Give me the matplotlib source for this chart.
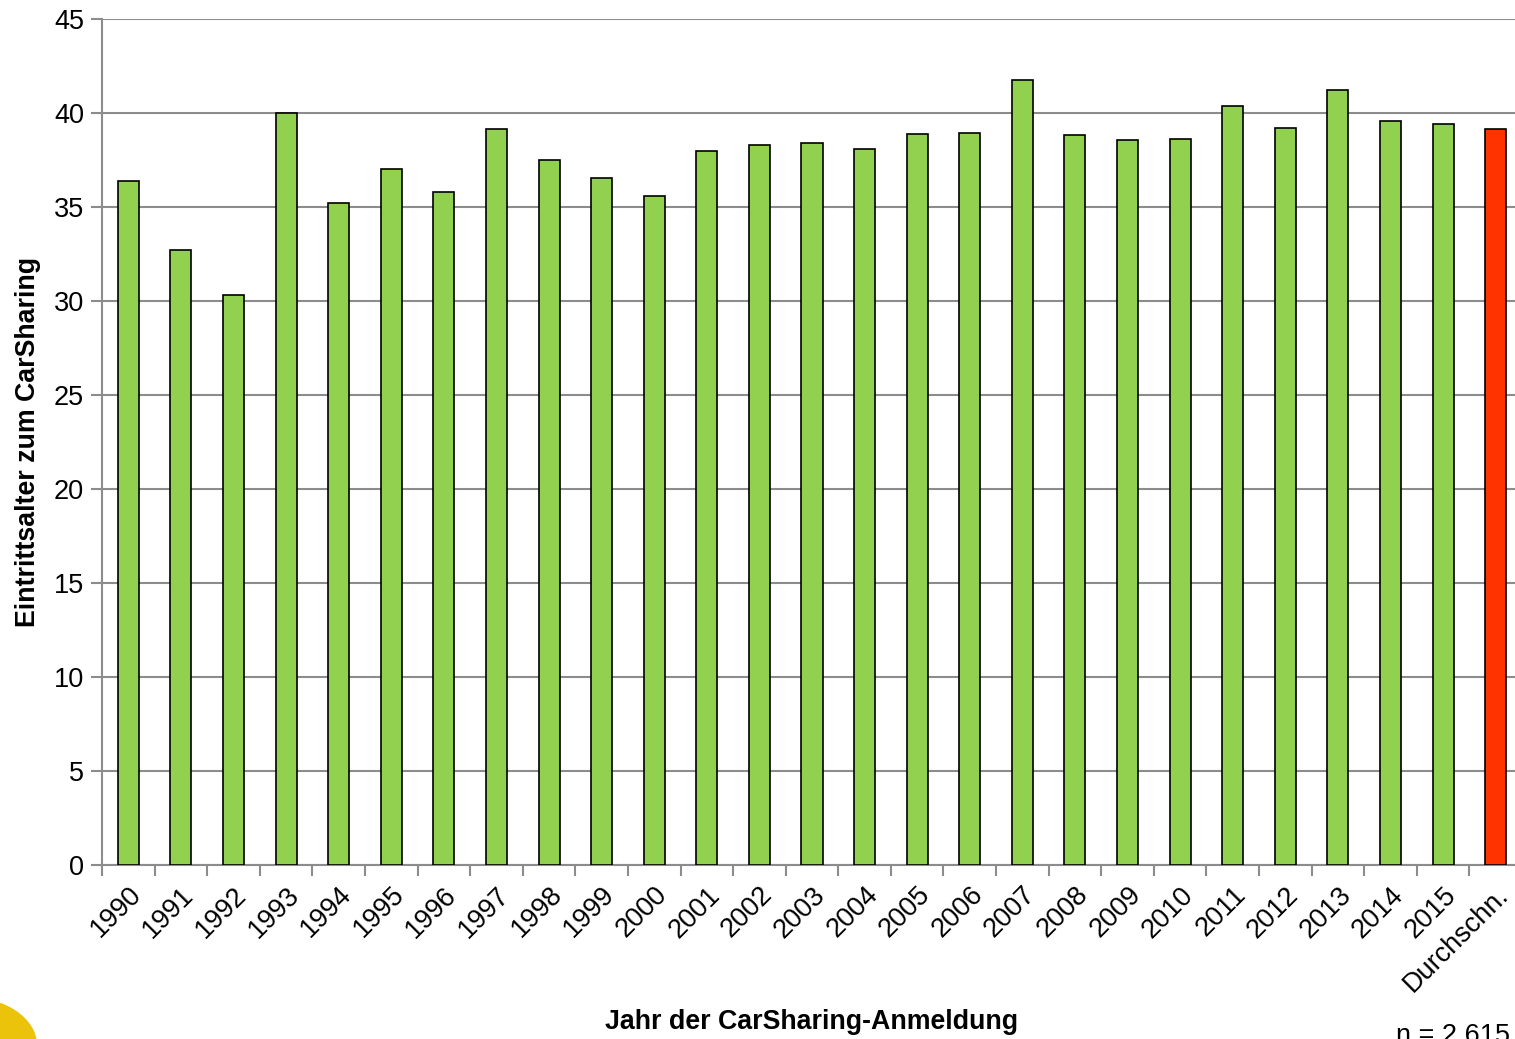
import numpy as np
import matplotlib
matplotlib.use('Agg')
import matplotlib.pyplot as plt
from matplotlib.patches import Circle

plt.rcParams['font.family'] = ['Liberation Sans', 'DejaVu Sans']

categories = ['1990', '1991', '1992', '1993', '1994', '1995', '1996', '1997',
              '1998', '1999', '2000', '2001', '2002', '2003', '2004', '2005',
              '2006', '2007', '2008', '2009', '2010', '2011', '2012', '2013',
              '2014', '2015', 'Durchschn.']
values = [36.4, 32.7, 30.3, 40.0, 35.2, 37.0, 35.8, 39.15,
          37.5, 36.55, 35.6, 38.0, 38.3, 38.4, 38.1, 38.9,
          38.95, 41.75, 38.85, 38.55, 38.6, 40.35, 39.2, 41.25,
          39.6, 39.4, 39.15]
y_ticks = [0, 5, 10, 15, 20, 25, 30, 35, 40, 45]

W, H = 1515, 1039
fig = plt.figure(figsize=(W / 100, H / 100), dpi=100)
# axes runs a bit past the right edge of the picture, like the source
ax = fig.add_axes([102 / W, (H - 865) / H, 1420 / W, 846 / H])

x = np.arange(len(categories))
colors = ['#92D050'] * (len(categories) - 1) + ['#FF3300']
ax.bar(x, values, width=0.4, color=colors, edgecolor='black', linewidth=1.2, zorder=3)

grid_c = '#8c8c8c'
ax.set_xlim(-0.5, len(categories) - 0.5)
ax.set_ylim(0, 45)
ax.set_yticks(y_ticks)
ax.yaxis.grid(True, color=grid_c, linewidth=1.5, zorder=0)
ax.set_axisbelow(True)

ax.set_xticks(x)
ax.set_xticklabels(categories, rotation=45, ha='right', rotation_mode='anchor')
ax.set_xticks(np.arange(len(categories) + 1) - 0.5, minor=True)
ax.tick_params(axis='x', which='major', length=0, pad=12, labelsize=19.5)
ax.tick_params(axis='x', which='minor', length=8, width=1.5, color=grid_c, direction='out')
ax.tick_params(axis='y', length=8, width=1.5, color=grid_c, labelsize=19.5, pad=5)

for s in ['top', 'right']:
    ax.spines[s].set_visible(False)
for s in ['left', 'bottom']:
    ax.spines[s].set_color(grid_c)
    ax.spines[s].set_linewidth(1.5)

fig.text(28 / W, 1 - 442 / H, 'Eintrittsalter zum CarSharing', rotation=90,
         ha='center', va='center', fontsize=19.3, fontweight='bold')
fig.text(812 / W, 1 - 1022 / H, 'Jahr der CarSharing-Anmeldung',
         ha='center', va='center', fontsize=19.3, fontweight='bold')
fig.text(1396 / W, 1 - 1023 / H, 'n = 2.615', ha='left', va='top', fontsize=19.5)

fig.patches.append(Circle((-33 / W, 1 - 1045 / H), 70 / W, transform=fig.transFigure,
                          facecolor='#ECC30B', edgecolor='none'))

fig.savefig('out.png', dpi=100)
